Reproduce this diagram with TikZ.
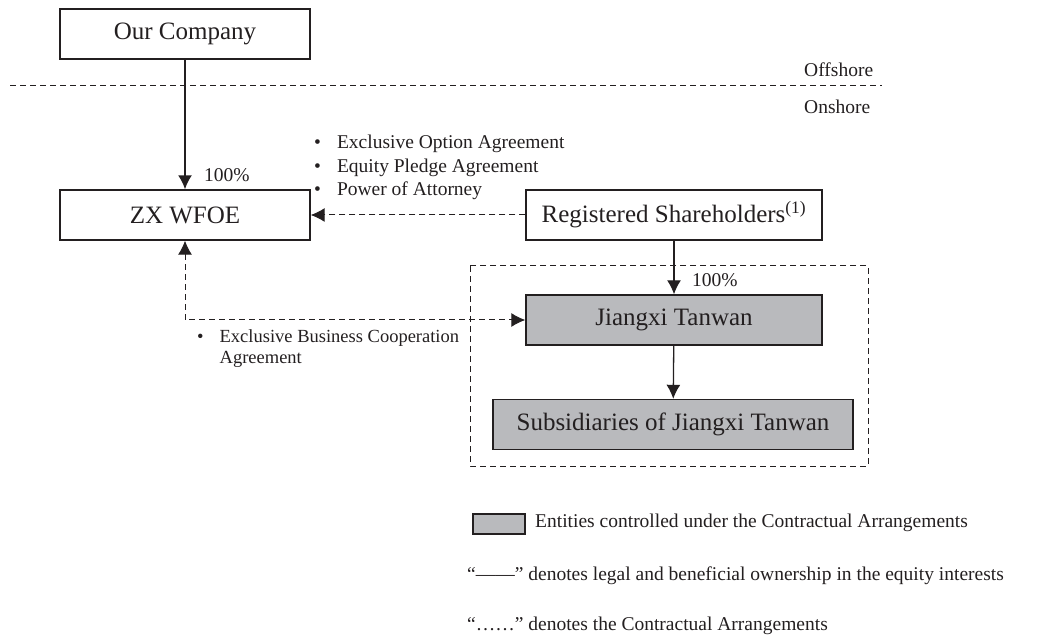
\documentclass[tikz,border=0pt]{standalone}
\usepackage{fontspec}
\setmainfont{Liberation Serif}
\usetikzlibrary{arrows.meta}
\definecolor{inkc}{HTML}{231F20}
\definecolor{entgray}{HTML}{B9BABD}
\tikzset{
	entity/.style={draw=inkc, line width=1.4pt, minimum width=#1, minimum height=50pt, inner sep=0pt, text=inkc, font=\fontsize{25}{28}\selectfont},
	entity/.default=250pt,
	owns/.style={draw=inkc, line width=1.3pt, -{Latex[length=14pt,width=14pt]}},
	contract/.style={draw=inkc, line width=1pt, dash pattern=on 6pt off 4pt},
	small/.style={text=inkc, font=\fontsize{19.5}{23.5}\selectfont, inner sep=0pt}
}
\begin{document}
\begin{tikzpicture}[x=1pt, y=-1pt]
		\useasboundingbox (0,0) rectangle (1055,636);
		
		% offshore / onshore
		\draw[contract] (10,86) -- (882,86);
		\node[small, anchor=west] (offshore) at (804,70) {Offshore};
		\node[small, anchor=west] (onshore) at (804,107) {Onshore};
		
		% entities
		\node[entity] (company) at (185,34) {Our Company};
		\node[entity] (wfoe) at (185,215) {ZX WFOE};
		\node[entity=296pt] (regsh) at (674,215) {Registered Shareholders\textsuperscript{(1)}};
		\draw[contract] (470,266) rectangle (868,466);
		\node[entity=296pt, fill=entgray] (tanwan) at (674,320) {Jiangxi Tanwan};
		\node[entity=360pt, fill=entgray] (subs) at (673,424.5) {Subsidiaries of Jiangxi Tanwan};
		
		% ownership
		\draw[owns, line width=1.8pt] (company) -- (wfoe);
		\node[small, anchor=west] (pctwfoe) at (204,175) {100\%};
		\draw[owns] (regsh) -- (tanwan);
		\node[small, anchor=west] (pcttanwan) at (692,280) {100\%};
		\draw[owns] (tanwan) -- (subs);
		
		% contractual arrangements
		\draw[contract, -{Latex[length=14pt,width=14pt]}] (regsh) -- (wfoe);
		\draw[contract, {Latex[length=14pt,width=14pt]}-{Latex[length=14pt,width=14pt]}] (wfoe.south) |- (tanwan.west);
		\node[small, anchor=north west] (agreements) at (314,132) {%
			\begin{tabular}{@{}l@{\hspace{16pt}}l@{}}
				\textbullet & Exclusive Option Agreement\\
				\textbullet & Equity Pledge Agreement\\
				\textbullet & Power of Attorney
			\end{tabular}};
		\node[small, anchor=north west, font=\fontsize{18.5}{21}\selectfont] (cooperation) at (197,328) {%
			\begin{tabular}{@{}l@{\hspace{16pt}}l@{}}
				\textbullet & Exclusive Business Cooperation\\
				 & Agreement
			\end{tabular}};
		
		% legend
		\node[draw=inkc, line width=1.4pt, fill=entgray, minimum width=52pt, minimum height=20pt, inner sep=0pt] (key) at (499,524) {};
		\node[small, anchor=west] (keytext) at (535,523) {Entities controlled under the Contractual Arrangements};
		\node[small, anchor=west] (solidtext) at (467,576) {“——” denotes legal and beneficial ownership in the equity interests};
		\node[small, anchor=west] (dottext) at (467,626) {“……” denotes the Contractual Arrangements};
	\end{tikzpicture}
\end{document}
